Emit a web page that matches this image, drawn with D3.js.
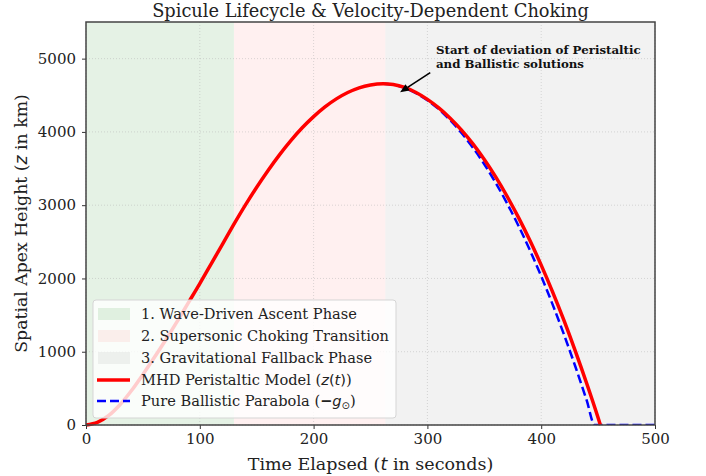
<!DOCTYPE html>
<html><head><meta charset="utf-8">
<script src="https://cdn.jsdelivr.net/npm/d3@7"></script>
<style>
html,body{margin:0;padding:0;background:#fff;}
svg text{font-family:"DejaVu Serif",serif;}
</style></head>
<body>
<svg id="chart" width="706" height="476"></svg>
<script>
// ---- data ----
const tMHD = [0,10,20,30,40,50,60,70,80,90,100,110,120,130,140,150,160,170,180,190,200,210,220,230,240,250,261,270,280,290,300,310,320,330,340,350,360,370,380,390,400,410,420,430,440,450,452];
const zMHD = [0,35,130,280,470,690,920,1160,1410,1670,1930,2200,2470,2740,3000,3245,3474,3687,3881,4056,4209,4342,4451,4538,4602,4641,4658,4647,4607,4538,4444,4328,4188,4025,3837,3624,3386,3122,2833,2520,2182,1817,1427,1009,567,99,0];
const tBal = [262,270,280,290,300,310,320,330,340,350,360,370,380,390,400,410,420,430,440,447,460,480,500];
const zBal = [4658,4644,4600,4528,4432,4310,4160,3985,3785,3558,3305,3025,2720,2388,2030,1646,1235,798,335,0,0,0,0];
const phaseNames = ["1. Wave-Driven Ascent Phase","2. Supersonic Choking Transition","3. Gravitational Fallback Phase"];
const phaseStart = [0,130,263];
const phaseEnd = [130,263,500];
const phaseColors = ["green","red","gray"];
const phaseAlpha = [0.1,0.06,0.1];
const xTicks = [0,100,200,300,400,500];
const yTicks = [0,1000,2000,3000,4000,5000];

const W=706,H=476,m={l:86,r:51,t:22,b:51};
const svg=d3.select("#chart");
const x=d3.scaleLinear().domain([0,500]).range([m.l,W-m.r]);
const y=d3.scaleLinear().domain([0,5500]).range([H-m.b,m.t]);

svg.append("defs").append("clipPath").attr("id","clip").append("rect")
  .attr("x",m.l).attr("y",m.t-5).attr("width",W-m.l-m.r).attr("height",H-m.t-m.b+5);

// phases
svg.append("g").selectAll("rect").data(phaseNames).join("rect")
  .attr("x",(d,i)=>x(phaseStart[i])).attr("width",(d,i)=>x(phaseEnd[i])-x(phaseStart[i]))
  .attr("y",m.t).attr("height",H-m.t-m.b)
  .attr("fill",(d,i)=>phaseColors[i]).attr("fill-opacity",(d,i)=>phaseAlpha[i]);

// grid
const grid=svg.append("g").attr("stroke","#b0b0b0").attr("stroke-opacity",0.6).attr("stroke-width",0.8).attr("stroke-dasharray","1,2");
grid.selectAll("line.gx").data(xTicks).join("line").attr("x1",d=>x(d)).attr("x2",d=>x(d)).attr("y1",m.t).attr("y2",H-m.b);
grid.selectAll("line.gy").data(yTicks).join("line").attr("y1",d=>y(d)).attr("y2",d=>y(d)).attr("x1",m.l).attr("x2",W-m.r);

// lines
const line=d3.line().x(d=>x(d[0])).y(d=>y(d[1])).curve(d3.curveMonotoneX);
const g=svg.append("g").attr("clip-path","url(#clip)");
g.append("path").datum(tBal.map((t,i)=>[t,zBal[i]])).attr("d",line)
  .attr("fill","none").attr("stroke","#0000ff").attr("stroke-width",2.5).attr("stroke-dasharray","9,4");
svg.append("path").datum(tMHD.map((t,i)=>[t,zMHD[i]])).attr("d",line)
  .attr("fill","none").attr("stroke","#ff0000").attr("stroke-width",3.5).attr("stroke-linejoin","round");

// axes
const xAxis=svg.append("g").attr("transform",`translate(0,${H-m.b})`).call(d3.axisBottom(x).tickValues(xTicks).tickSize(4).tickPadding(4).tickFormat(d3.format("d")));
const yAxis=svg.append("g").attr("transform",`translate(${m.l},0)`).call(d3.axisLeft(y).tickValues(yTicks).tickSize(4).tickPadding(6).tickFormat(d3.format("d")));
[xAxis,yAxis].forEach(a=>{a.select(".domain").remove();a.selectAll("text").attr("font-family","DejaVu Serif").attr("font-size",15).attr("fill","#222");a.selectAll("line").attr("stroke","#333");});
// frame
svg.append("rect").attr("x",m.l).attr("y",m.t).attr("width",W-m.l-m.r).attr("height",H-m.t-m.b)
  .attr("fill","none").attr("stroke","#444").attr("stroke-width",1.5);

// title & labels
svg.append("text").attr("x",(m.l+W-m.r)/2).attr("y",17).attr("text-anchor","middle").attr("font-size",17.8).attr("fill","#222").text("Spicule Lifecycle & Velocity-Dependent Choking");
const xl=svg.append("text").attr("x",(m.l+W-m.r)/2).attr("y",470).attr("text-anchor","middle").attr("font-size",17.5).attr("fill","#222");
xl.append("tspan").text("Time Elapsed (");
xl.append("tspan").attr("font-family","DejaVu Sans").attr("font-style","italic").text("t");
xl.append("tspan").text(" in seconds)");
const yl=svg.append("text").attr("transform",`translate(27,${(m.t+H-m.b)/2}) rotate(-90)`).attr("text-anchor","middle").attr("font-size",17.3).attr("fill","#222");
yl.append("tspan").text("Spatial Apex Height (");
yl.append("tspan").attr("font-family","DejaVu Sans").attr("font-style","italic").text("z");
yl.append("tspan").text(" in km)");

// annotation arrow
const tipX=x(276), tipY=y(4540), tailX=x(302.5), tailY=y(4810);
const dx=tipX-tailX, dy=tipY-tailY, len=Math.hypot(dx,dy), ux=dx/len, uy=dy/len;
const hl=9, hw=3.8, bx=tipX-ux*hl, by=tipY-uy*hl;
svg.append("line").attr("x1",tailX).attr("y1",tailY).attr("x2",bx).attr("y2",by).attr("stroke","#000").attr("stroke-width",1.6);
svg.append("path").attr("d",`M${tipX},${tipY} L${bx-uy*hw},${by+ux*hw} L${bx+uy*hw},${by-ux*hw} Z`).attr("fill","#000");
const an=svg.append("text").attr("font-size",11.8).attr("font-weight","bold").attr("fill","#111");
an.append("tspan").attr("x",x(307.5)).attr("y",y(5060)).text("Start of deviation of Peristaltic");
an.append("tspan").attr("x",x(307.5)).attr("dy",13.3).text("and Ballistic solutions");

// legend
const lg=svg.append("g").attr("transform","translate(93,300)");
lg.append("rect").attr("width",303).attr("height",118).attr("rx",3).attr("fill","#fff").attr("fill-opacity",0.8).attr("stroke","#d5d5d5");
const rowY=[14,36,58,80,101];
phaseNames.forEach((n,i)=>{
  lg.append("rect").attr("x",5).attr("y",rowY[i]-6).attr("width",32).attr("height",12).attr("fill",phaseColors[i]).attr("fill-opacity",phaseAlpha[i]);
  lg.append("text").attr("x",48).attr("y",rowY[i]+5).attr("font-size",14.6).attr("fill","#222").text(n);
});
lg.append("line").attr("x1",4).attr("x2",37).attr("y1",rowY[3]).attr("y2",rowY[3]).attr("stroke","#ff0000").attr("stroke-width",3.5);
const l4=lg.append("text").attr("x",48).attr("y",rowY[3]+5).attr("font-size",14.6).attr("fill","#222");
l4.append("tspan").text("MHD Peristaltic Model (");
l4.append("tspan").attr("font-family","DejaVu Sans").attr("font-style","italic").text("z");
l4.append("tspan").attr("font-family","DejaVu Sans").text("(");
l4.append("tspan").attr("font-family","DejaVu Sans").attr("font-style","italic").text("t");
l4.append("tspan").attr("font-family","DejaVu Sans").text(")");
l4.append("tspan").text(")");
lg.append("line").attr("x1",4).attr("x2",37).attr("y1",rowY[4]).attr("y2",rowY[4]).attr("stroke","#0000ff").attr("stroke-width",2.5).attr("stroke-dasharray","9,4");
const l5=lg.append("text").attr("x",48).attr("y",rowY[4]+5).attr("font-size",14.6).attr("fill","#222");
l5.append("tspan").text("Pure Ballistic Parabola (");
l5.append("tspan").attr("font-family","DejaVu Sans").attr("font-weight","bold").text("−");
l5.append("tspan").attr("font-family","DejaVu Sans").attr("font-style","italic").text("g");
l5.append("tspan").attr("font-family","DejaVu Sans").attr("font-size",10).attr("dy",3).text("⊙");
l5.append("tspan").attr("dy",-3).text(")");
</script>
</body></html>
